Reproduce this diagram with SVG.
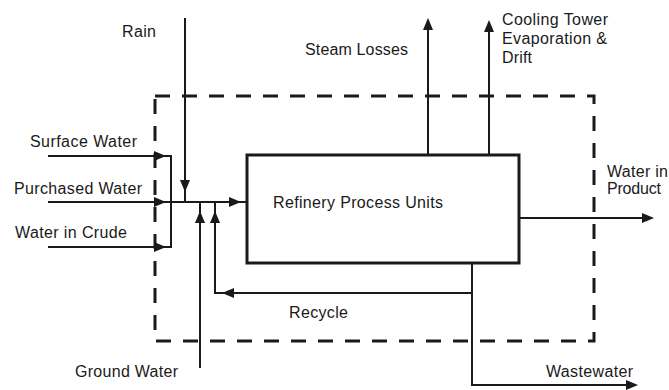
<svg xmlns="http://www.w3.org/2000/svg" width="669" height="390" viewBox="0 0 669 390">
<style>
.ln{stroke:#1a1a1a;stroke-width:2;fill:none}
.bx{stroke:#1a1a1a;stroke-width:3;fill:#fff}
.bd{stroke:#1a1a1a;stroke-width:3;fill:none;stroke-dasharray:15 12}
.ah{fill:#1a1a1a}
text{font-family:"Liberation Sans",Arial,sans-serif;font-size:16px;fill:#1a1a1a}
</style>
<defs>
<path id="arr" d="M0,0 L-12,-5 L-12,5 Z"/>
</defs>
<rect width="669" height="390" fill="#fff"/>
<g id="boundary">
<path class="bd" d="M155,96 H594 V341 H155 Z"/>
</g>
<g id="connectors">
<path class="ln" d="M48,156 H171 V247 H48"/>
<path class="ln" d="M48,202 H247"/>
<path class="ln" d="M185,18 V202"/>
<path class="ln" d="M200,368 V202"/>
<path class="ln" d="M472,293 H215 V202"/>
<path class="ln" d="M428,155 V20"/>
<path class="ln" d="M489,155 V22"/>
<path class="ln" d="M519,218 H652"/>
<path class="ln" d="M472,263 V385 H635"/>
<use class="ah" href="#arr" transform="translate(166,156)"/>
<use class="ah" href="#arr" transform="translate(166,202)"/>
<use class="ah" href="#arr" transform="translate(166,247)"/>
<use class="ah" href="#arr" transform="translate(185,192) rotate(90)"/>
<use class="ah" href="#arr" transform="translate(200,211) rotate(-90)"/>
<use class="ah" href="#arr" transform="translate(215,211) rotate(-90)"/>
<use class="ah" href="#arr" transform="translate(241,202)"/>
<use class="ah" href="#arr" transform="translate(222,293) rotate(180)"/>
<use class="ah" href="#arr" transform="translate(428,18) rotate(-90)"/>
<use class="ah" href="#arr" transform="translate(489,20) rotate(-90)"/>
<use class="ah" href="#arr" transform="translate(654,218)"/>
<use class="ah" href="#arr" transform="translate(638,385)"/>
</g>
<g id="process">
<rect class="bx" x="247" y="155" width="272" height="108"/>
<text x="273" y="208" textLength="170">Refinery Process Units</text>
</g>
<g id="rain"><text x="122" y="37" textLength="34">Rain</text></g>
<g id="steam-losses"><text x="305" y="55" textLength="103">Steam Losses</text></g>
<g id="cooling-tower">
<text x="502" y="25" textLength="106">Cooling Tower</text>
<text x="502" y="44" textLength="105">Evaporation &amp;</text>
<text x="502" y="63" textLength="30">Drift</text>
</g>
<g id="surface-water"><text x="30" y="147" textLength="107">Surface Water</text></g>
<g id="purchased-water"><text x="14" y="194" textLength="128">Purchased Water</text></g>
<g id="water-in-crude"><text x="15" y="238" textLength="112">Water in Crude</text></g>
<g id="water-in-product">
<text x="607" y="177" textLength="61">Water in</text>
<text x="607" y="194" textLength="54">Product</text>
</g>
<g id="recycle"><text x="289" y="318" textLength="59">Recycle</text></g>
<g id="ground-water"><text x="75" y="377" textLength="103">Ground Water</text></g>
<g id="wastewater"><text x="546" y="377" textLength="87">Wastewater</text></g>
</svg>
